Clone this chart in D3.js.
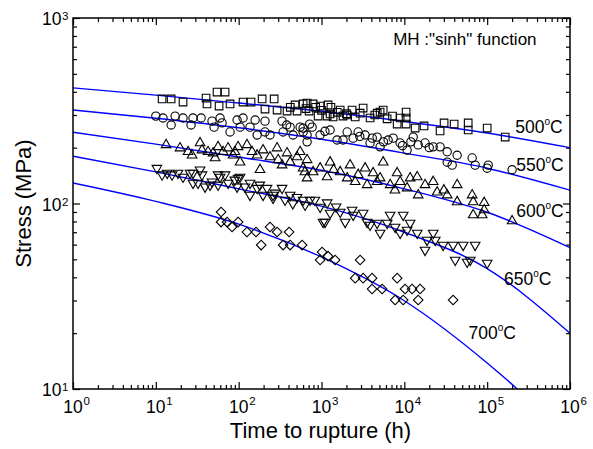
<!DOCTYPE html>
<html>
<head>
<meta charset="utf-8">
<script src="https://d3js.org/d3.v7.min.js"></script>
<style>
  body { margin: 0; background: #fff; }
  svg { display: block; font-family: "Liberation Sans", Arial, sans-serif; }
</style>
</head>
<body>
<script>
// DATA ––––––––––––––––––––––––––––––––––––––––––––––––––––––––––––––

  var temps = ["500", "550", "600", "650", "700"];
  var xMajor = [1, 10, 100, 1e3, 1e4, 1e5, 1e6];
  var yMajor = [10, 100, 1000];

  // fitted "sinh" curves [time h, stress MPa]
  var fit500 = [[1, 420], [10, 384], [100, 348], [1e3, 314], [1e4, 277], [1e5, 240], [1e6, 200]];
  var fit550 = [[1, 319], [10, 288], [100, 256], [1e3, 222], [1e4, 187], [1e5, 155], [1e6, 118]];
  var fit600 = [[1, 242], [10, 209], [100, 178], [1e3, 151], [1e4, 120], [1e5, 89.7], [1e6, 57.8]];
  var fit650 = [[1, 180], [10, 148], [100, 120], [1e3, 96.8], [1e4, 70], [1e5, 44.6], [1e6, 20]];
  var fit700 = [[1, 129], [10, 102.6], [100, 77.4], [1e3, 51.5], [1e4, 29.9], [1e5, 13.8], [2.3e5, 10], [5e5, 7]];

  // test points [time h, stress MPa]
  var pts500 = [[11.9,366],[15.3,366],[21.3,352],[40.4,370],[54.8,399],[68.5,399],[41.5,344],[58,335],[78.7,344],
    [113,352],[141,352],[192,366],[268,366],[208,323],[291,319],[384,315],[507,315],[600,344],[792,344],[962,335],
    [708,315],[910,296],[1170,296],[1380,293],[1820,296],[2340,319],[3180,327],[2550,293],[3860,289],[5100,311],
    [6200,286],[8190,268],[10500,311],[10500,289],[10500,268],[13500,255],[17300,262],[27000,246],[30200,272],
    [39900,268],[59000,272],[59000,249],[100000,255],[165000,228],[420,330],[650,325],[1000,318],[1300,330],
    [1550,310],[2000,305],[1200,340],[4400,300],[670,348],[1270,304],[1680,319],[2040,300],[2925,307],[4700,307],
    [5550,319],[7200,296],[8900,289],[480,340],[850,330]];

  var pts550 = [[10,296],[12.2,289],[15.3,265],[17.1,296],[21.3,289],[26.6,265],[28.1,289],[35.2,289],[47.7,278],
    [50.5,258],[59.6,289],[63,272],[78.7,243],[95.7,282],[104,258],[113,289],[137,258],[158,282],[167,234],[208,278],
    [208,243],[239,234],[334,278],[344,243],[418,258],[454,234],[552,258],[600,243],[670,215],[600,255],[770,258],
    [670,234],[962,234],[1270,249],[1540,220],[2040,243],[1820,220],[2410,225],[2770,243],[3360,234],[3860,212],
    [4690,228],[5100,202],[6370,220],[7330,225],[8900,212],[10800,194],[12800,228],[14700,207],[17800,212],
    [22300,202],[27000,202],[32900,190],[43400,182],[32900,167],[37800,161],[65900,176],[71600,161],[100000,155],
    [103000,161],[200000,152],[4100,225],[1100,245],[2900,230],[380,265],[720,268],[5600,215],[9500,205],
    [12000,215],[20000,200]];

  var pts600 = [[13.3,207],[19.6,199],[24.5,190],[27.4,182],[34.2,212],[36.1,194],[42.7,190],[49.1,187],[56.4,202],
    [64.8,190],[74.5,199],[85.6,182],[98.4,202],[104,167],[126,207],[145,190],[167,182],[197,194],[239,178],[291,199],
    [334,161],[384,187],[418,167],[507,178],[552,190],[600,155],[670,172],[670,137],[792,148],[962,155],[1170,139],
    [1270,167],[1680,148],[2040,137],[2215,161],[2770,143],[3360,155],[3550,126],[4200,146],[5100,137],[5550,167],
    [6740,126],[8190,146],[8900,131],[10800,121],[14300,139],[14700,111],[17800,126],[22300,131],[24900,115],
    [32900,111],[43400,126],[43400,102],[65900,111],[67800,102],[92000,101],[67800,86.7],[87100,86.7],[92000,92.3],
    [200000,80.5],[52,176],[181,152],[630,148],[2550,131],[7700,118],[11750,137],[90,190],[300,172],[1400,152],
    [4700,131],[30000,118]];

  var pts650 = [[10.3,155],[11.9,143],[13.7,146],[15.7,143],[18.5,146],[21.3,139],[25.9,146],[28.1,129],[28.1,146],
    [32.3,129],[36.1,143],[39.3,123],[45.2,126],[47.7,131],[56.4,143],[59.6,139],[56.4,126],[68.5,143],[74.5,129],
    [95.7,123],[98.4,137],[104,139],[119,123],[137,129],[137,111],[167,121],[197,111],[220,121],[260,111],[260,107],
    [334,121],[363,104.5],[418,111],[507,108],[600,104.5],[634,98.2],[728,104.5],[962,95.7],[1105,79.4],[1170,101],
    [1045,79.4],[1270,88.9],[1680,90],[1930,79.4],[2410,86.7],[3180,88.9],[3550,79.4],[3860,76.6],[5100,69.3],
    [4690,78.5],[6200,78.5],[7740,74.7],[9680,86.7],[8900,69.3],[10800,72],[11750,78.5],[14300,69.3],[18800,63.5],
    [22300,69.3],[23600,63.5],[29400,59.7],[38800,59.7],[51300,59.7],[71600,59.7],[17800,56.1],[41100,49.6],
    [62400,49.6],[57300,48.4],[100000,47.8],[34.2,152],[90,134],[275,114],[830,104.5],[2340,92.3],[6740,86.7],
    [180,126],[450,100],[1500,96]];

  var pts700 = [[61.3,90],[61.3,79.4],[72.4,79.4],[83.2,74.7],[98.4,79.4],[126,70.2],[162,70.2],[187,59.7],[239,74.7],
    [291,70.2],[344,59.7],[406,70.2],[418,59.7],[583,59.7],[1016,54.8],[962,49.6],[1200,52],[1460,49.6],[2925,49.6],
    [2550,39.6],[3180,39.6],[4080,39.6],[4080,34.6],[5390,34.6],[8190,39.6],[7740,30.2],[9680,30.2],[10200,34.6],
    [12400,34.6],[15500,34.6],[14700,30.2],[38800,30.2]];

  // where the temperature labels sit, in data units [time h, stress MPa]
  var labelAt = [[2.18e5, 240], [2.24e5, 150], [2.24e5, 84.6], [1.6e5, 36.4], [5.94e4, 18.6]];
  var noteAt = [7330, 711];


// CHART –––––––––––––––––––––––––––––––––––––––––––––––––––––––––––––

  var drawChart = function() {
    let margin = {top: 18, right: 23, bottom: 60, left: 73},
        width = 593 - margin.left - margin.right,
        height = 449 - margin.top - margin.bottom;

    let svg = d3.select("body").append("svg")
        .attr("width", 593)
        .attr("height", 449);

    let g = svg.append("g")
        .attr("transform", "translate(" + margin.left + "," + margin.top + ")");

    let x = d3.scaleLog().domain([1, 1e6]).range([0, width]),
        y = d3.scaleLog().domain([10, 1000]).range([height, 0]);

    // minor ticks 2..9 of every decade
    let xMinor = [], yMinor = [];
    for (let d = 0; d < 6; d++) {
      for (let k = 2; k < 10; k++) xMinor.push(k * Math.pow(10, d));
    }
    for (let d = 1; d < 3; d++) {
      for (let k = 2; k < 10; k++) yMinor.push(k * Math.pow(10, d));
    }

    // inward ticks on all four sides
    let tickAxis = function(axis, values, size, transform) {
      let a = g.append("g")
          .attr("transform", transform)
          .call(axis.tickValues(values).tickSizeInner(-size).tickSizeOuter(0).tickFormat(""));
      a.select(".domain").remove();
      a.selectAll("line").attr("stroke", "#000").attr("stroke-width", 1.2);
    };

    tickAxis(d3.axisBottom(x), xMajor, 7, "translate(0," + height + ")");
    tickAxis(d3.axisBottom(x), xMinor, 4, "translate(0," + height + ")");
    tickAxis(d3.axisTop(x), xMajor, 7, "translate(0,0)");
    tickAxis(d3.axisTop(x), xMinor, 4, "translate(0,0)");
    tickAxis(d3.axisLeft(y), yMajor, 7, "translate(0,0)");
    tickAxis(d3.axisLeft(y), yMinor, 4, "translate(0,0)");
    tickAxis(d3.axisRight(y), yMajor, 7, "translate(" + width + ",0)");
    tickAxis(d3.axisRight(y), yMinor, 4, "translate(" + width + ",0)");

    // tick labels as 10^n
    xMajor.forEach(function(v) {
      let px = x(v);
      g.append("text").attr("x", px).attr("y", height + 24)
        .attr("text-anchor", "middle").attr("font-size", 17.5).text("10");
      g.append("text").attr("x", px + 10.5).attr("y", height + 16)
        .attr("font-size", 11.5).text(Math.round(Math.log10(v)));
    });

    yMajor.forEach(function(v) {
      let py = y(v);
      g.append("text").attr("x", -11.5).attr("y", py + 7)
        .attr("text-anchor", "end").attr("font-size", 17.5).text("10");
      g.append("text").attr("x", -11).attr("y", py + 2)
        .attr("font-size", 11.5).text(Math.round(Math.log10(v)));
    });

    // axis titles
    g.append("text")
      .attr("x", width / 2 - 1)
      .attr("y", height + 49)
      .attr("text-anchor", "middle")
      .attr("font-size", 22)
      .text("Time to rupture (h)");

    g.append("text")
      .attr("transform", "translate(-42," + (height / 2) + ") rotate(-90)")
      .attr("text-anchor", "middle")
      .attr("font-size", 22)
      .text("Stress (MPa)");

    // clip for curves
    svg.append("defs").append("clipPath").attr("id", "plotClip")
      .append("rect").attr("width", width).attr("height", height);

    let line = d3.line()
      .x(function(d) { return x(d[0]); })
      .y(function(d) { return y(d[1]); })
      .curve(d3.curveMonotoneX);

    let fits = [fit500, fit550, fit600, fit650, fit700];
    fits.forEach(function(f) {
      g.append("path")
        .datum(f)
        .attr("clip-path", "url(#plotClip)")
        .attr("fill", "none")
        .attr("stroke", "#0000ff")
        .attr("stroke-width", 1.4)
        .attr("d", line);
    });

    // markers: square, circle, triangle up, triangle down, diamond
    let symbols = [
      {type: d3.symbolSquare, size: 58, rot: 0},
      {type: d3.symbolCircle, size: 54, rot: 0},
      {type: d3.symbolTriangle, size: 40, rot: 0},
      {type: d3.symbolTriangle, size: 40, rot: 180},
      {type: d3.symbolSquare, size: 46, rot: 45}
    ];
    let points = [pts500, pts550, pts600, pts650, pts700];

    points.forEach(function(pts, i) {
      let s = symbols[i];
      g.append("g").selectAll("path")
        .data(pts)
        .enter().append("path")
        .attr("d", d3.symbol().type(s.type).size(s.size))
        .attr("transform", function(d) {
          return "translate(" + x(d[0]) + "," + y(d[1]) + ") rotate(" + s.rot + ")";
        })
        .attr("fill", "none")
        .attr("stroke", "#000")
        .attr("stroke-width", 1.1);
    });

    // temperature labels
    temps.forEach(function(t, i) {
      let lab = g.append("text")
        .attr("x", x(labelAt[i][0]))
        .attr("y", y(labelAt[i][1]))
        .attr("font-size", 17.5);
      lab.append("tspan").text(t);
      lab.append("tspan").attr("font-size", 10).attr("dy", -8).text("o");
      lab.append("tspan").attr("dy", 8).text("C");
    });

    g.append("text")
      .attr("x", x(noteAt[0]))
      .attr("y", y(noteAt[1]))
      .attr("font-size", 17)
      .text("MH :\"sinh\" function");

    // frame
    g.append("rect")
      .attr("width", width)
      .attr("height", height)
      .attr("fill", "none")
      .attr("stroke", "#000")
      .attr("stroke-width", 1.5);
  };


// RUN ––––––––––––––––––––––––––––––––––––––––––––––––––––––––––––––––

drawChart();
</script>
</body>
</html>
